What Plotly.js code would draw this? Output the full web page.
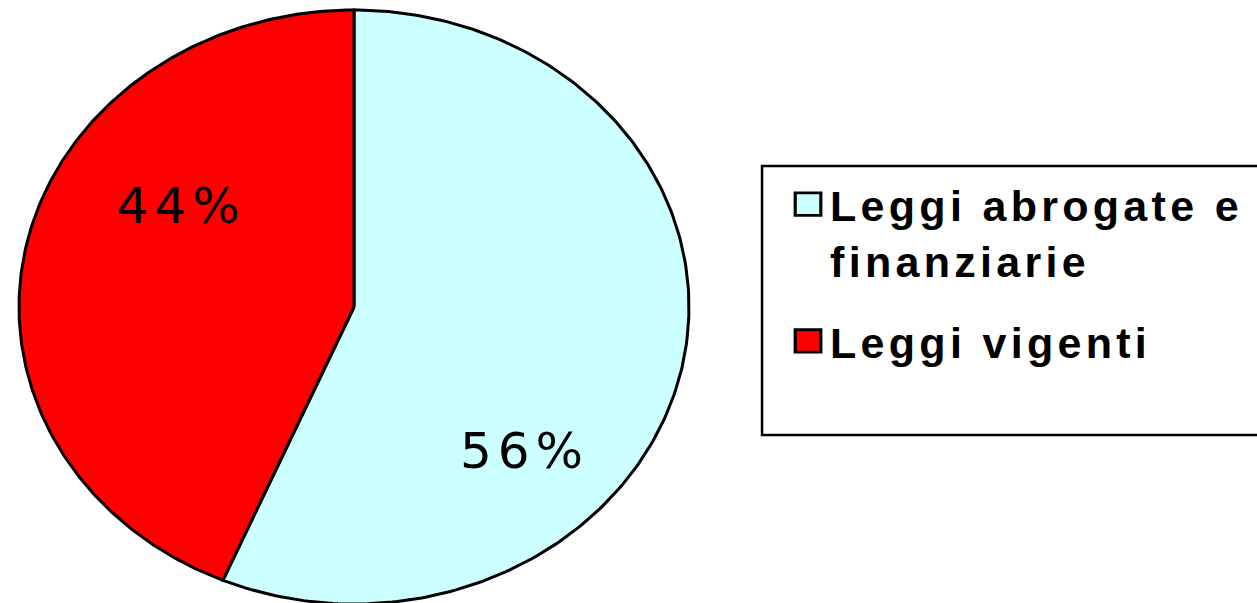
<!DOCTYPE html>
<html>
<head>
<meta charset="utf-8">
<script src="https://cdn.plot.ly/plotly-3.0.1.min.js"></script>
<style>
  html, body { margin: 0; padding: 0; background: #fff; }
  #chart { width: 1257px; height: 603px; }
  .legendtext { letter-spacing: 4.3px; }
  .annotation-text { letter-spacing: 6px; }
  .legendpoints path.scatterpts { transform-box: fill-box; transform-origin: center; scale: 1.6 1.4; translate: -14px 0px; }
</style>
</head>
<body>
<div id="chart"></div>
<script>
// ---- data ----
const categories = ["Leggi abrogate e<br>finanziarie", "Leggi vigenti"];
const values = [56.4, 43.6];
const colors = ["#CCFFFF", "#FF0000"];

// ---- build slices (clockwise from 12 o'clock) from the values ----
const total = values.reduce((a, b) => a + b, 0);
const traces = [];
let start = 0;
values.forEach((v, i) => {
  const a0 = start / total * 2 * Math.PI;
  const a1 = (start + v) / total * 2 * Math.PI;
  const xs = [0], ys = [0];
  const n = 240;
  for (let k = 0; k <= n; k++) {
    const t = a0 + (a1 - a0) * k / n;
    xs.push(Math.sin(t));
    ys.push(Math.cos(t));
  }
  xs.push(0); ys.push(0);
  traces.push({
    type: "scatter", mode: "lines", x: xs, y: ys,
    fill: "toself", fillcolor: colors[i],
    line: { color: "#000", width: 3 },
    hoverinfo: "skip", showlegend: false
  });
  start += v;
});
// legend-only entries
categories.forEach((c, i) => {
  traces.push({
    type: "scatter", mode: "markers", x: [null], y: [null], name: c,
    legendgroup: "g" + i,
    marker: { symbol: "square", size: 16, color: colors[i], line: { color: "#000", width: 2 } },
    showlegend: true
  });
});

// label positions (data units, as placed by the original chart)
const labelPos = [[0.51, -0.485], [-0.516, 0.34]];
const annotations = values.map((v, i) => ({
  x: labelPos[i][0], y: labelPos[i][1], xref: "x", yref: "y",
  text: Math.round(v / total * 100) + "%",
  showarrow: false,
  font: { family: "DejaVu Sans", size: 50, color: "#000" }
}));

const layout = {
  width: 1257, height: 603,
  margin: { l: 16, r: 565, t: 7, b: 0 },
  paper_bgcolor: "#fff", plot_bgcolor: "rgba(0,0,0,0)",
  xaxis: { range: [-1.009, 1.009], visible: false, fixedrange: true },
  yaxis: { range: [-0.9966, 1.0101], visible: false, fixedrange: true },
  showlegend: true,
  legend: {
    x: 1.145, y: 0.727, xanchor: "left", yanchor: "top",
    font: { family: "Liberation Sans, Arial, sans-serif", size: 43, color: "#000", weight: "bold" },
    bgcolor: "rgba(0,0,0,0)", borderwidth: 0, valign: "top",
    tracegroupgap: 22, itemsizing: "trace"
  },
  shapes: [{
    type: "rect", xref: "paper", yref: "paper",
    x0: 1.1036, x1: 1.843, y0: 0.2819, y1: 0.7332,
    line: { color: "#000", width: 2.5 }, fillcolor: "rgba(0,0,0,0)"
  }],
  annotations: annotations
};

Plotly.newPlot("chart", traces, layout, { displayModeBar: false, staticPlot: true });
</script>
</body>
</html>
